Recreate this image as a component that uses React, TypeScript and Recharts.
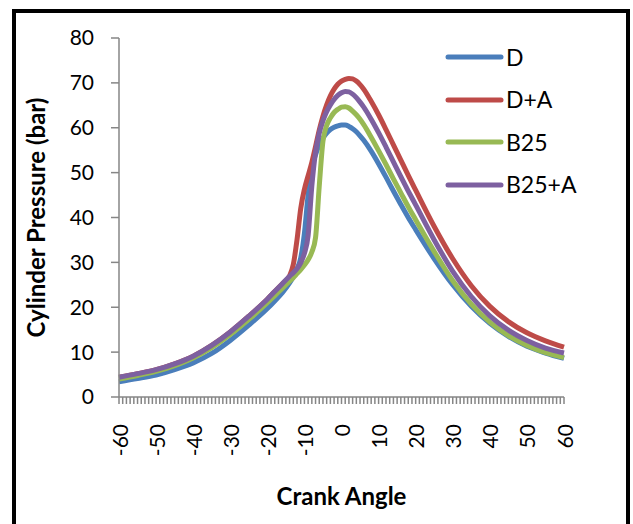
import React from "react";
import { LineChart, Line, XAxis, YAxis, Legend } from "recharts";

// Crank angle positions (deg) at which pressures were taken
const ANGLES = [
  -60, -55, -50, -45, -40, -35, -30, -25, -20, -18, -16, -14, -13, -12, -11, -10,
  -9, -8, -7, -6, -5, -4, -3, -2, -1, 0, 1, 2, 3, 4, 5, 6, 8, 10, 12, 14, 16, 18,
  20, 25, 30, 35, 40, 45, 50, 55, 60,
];

// Cylinder pressure (bar) for each fuel
const D = [
  3.4, 4.1, 4.9, 6.1, 7.6, 9.7, 12.6, 16.0, 19.7, 21.4, 23.2, 25.4, 26.8, 28.5, 31.0, 36.5,
  45.0, 51.0, 54.0, 56.2, 57.7, 58.8, 59.6, 60.1, 60.4, 60.6, 60.6, 60.3, 59.8, 59.1, 58.2, 57.2,
  54.8, 52.0, 49.0, 45.9, 42.9, 40.0, 37.3, 30.8, 25.0, 20.2, 16.4, 13.5, 11.3, 9.8, 8.6,
];
const D_A = [
  4.4, 5.2, 6.1, 7.4, 9.1, 11.5, 14.5, 18.0, 21.8, 23.5, 25.2, 27.0, 29.5, 35.0, 42.0, 46.3,
  49.3, 52.3, 55.8, 59.5, 62.6, 65.1, 67.1, 68.6, 69.7, 70.4, 70.8, 71.0, 70.9, 70.4, 69.6, 68.6,
  65.9, 62.9, 59.6, 56.2, 52.8, 49.4, 46.1, 38.0, 30.8, 24.8, 20.2, 16.8, 14.3, 12.5, 11.1,
];
const B25 = [
  4.0, 4.8, 5.7, 7.0, 8.7, 11.0, 13.9, 17.3, 21.0, 22.6, 24.2, 25.8, 26.6, 27.5, 28.4, 29.4,
  30.6, 32.3, 35.5, 47.0, 57.0, 60.5, 62.2, 63.4, 64.1, 64.6, 64.7, 64.4, 63.7, 62.9, 61.9, 60.7,
  57.9, 54.9, 51.8, 48.6, 45.5, 42.4, 39.5, 32.4, 25.9, 20.7, 16.7, 13.7, 11.5, 9.9, 8.8,
];
const B25_A = [
  4.4, 5.2, 6.1, 7.4, 9.1, 11.5, 14.5, 18.0, 21.8, 23.5, 25.2, 26.9, 27.7, 28.6, 29.9, 32.0,
  36.0, 47.0, 54.5, 58.8, 61.6, 63.6, 65.1, 66.3, 67.2, 67.8, 68.1, 68.0, 67.5, 66.7, 65.7, 64.6,
  61.9, 58.9, 55.7, 52.4, 49.1, 45.9, 42.8, 35.0, 28.0, 22.4, 18.1, 14.9, 12.6, 10.9, 9.8,
];

// Axis ticks
const Y_TICKS = [0, 10, 20, 30, 40, 50, 60, 70, 80];
const X_LABELS = [-60, -50, -40, -30, -20, -10, 0, 10, 20, 30, 40, 50, 60];
const X_MIN = -60;
const X_MAX = 60;

const data = ANGLES.map((a, i) => ({
  angle: a,
  D: D[i],
  "D+A": D_A[i],
  B25: B25[i],
  "B25+A": B25_A[i],
}));

// one minor tick per degree along the crank-angle axis
const X_TICKS: number[] = [];
for (let a = X_MIN; a <= X_MAX; a++) X_TICKS.push(a);

const SERIES = [
  { key: "D", color: "#4A7EBB" },
  { key: "D+A", color: "#BE4B48" },
  { key: "B25", color: "#98B954" },
  { key: "B25+A", color: "#7D60A0" },
];
const SERIES_ORDER = SERIES.map((s) => s.key);

const FONT = "Lato, 'Liberation Sans', sans-serif";
const AXIS_GREY = "#868686";

const XTick = (props: any) => {
  const { x, y, payload } = props;
  if (!X_LABELS.includes(payload.value)) return null;
  return (
    <text
      x={x}
      y={y + 18}
      transform={`rotate(-90, ${x}, ${y + 18})`}
      textAnchor="end"
      dominantBaseline="central"
      fontFamily={FONT}
      fontSize={21}
      fill="#000"
    >
      {payload.value}
    </text>
  );
};

const YTitle = (props: any) => {
  const { viewBox } = props;
  const cx = 35;
  const cy = viewBox.y + viewBox.height / 2;
  return (
    <text
      x={cx}
      y={cy}
      transform={`rotate(-90, ${cx}, ${cy})`}
      textAnchor="middle"
      dominantBaseline="central"
      fontFamily={FONT}
      fontWeight="bold"
      fontSize={24}
      fill="#000"
    >
      Cylinder Pressure (bar)
    </text>
  );
};

const XTitle = (props: any) => {
  const { viewBox } = props;
  const cx = viewBox.x + viewBox.width / 2;
  return (
    <text
      x={cx}
      y={495}
      textAnchor="middle"
      dominantBaseline="central"
      fontFamily={FONT}
      fontWeight="bold"
      fontSize={24}
      fill="#000"
    >
      Crank Angle
    </text>
  );
};

const LegendBox = (props: any) => {
  const items = [...(props.payload || [])].sort(
    (a: any, b: any) => SERIES_ORDER.indexOf(a.value) - SERIES_ORDER.indexOf(b.value)
  );
  return (
    <div>
      {items.map((p: any) => (
        <div
          key={p.value}
          style={{ display: "flex", alignItems: "center", height: 42.5 }}
        >
          <svg width={60} height={10} style={{ display: "block" }}>
            <line
              x1={3}
              y1={5}
              x2={56}
              y2={5}
              stroke={p.color}
              strokeWidth={5}
              strokeLinecap="round"
            />
          </svg>
          <span
            style={{
              fontFamily: FONT,
              fontSize: 23,
              color: "#000",
              lineHeight: 1,
              marginLeft: 1,
            }}
          >
            {p.value}
          </span>
        </div>
      ))}
    </div>
  );
};

export default function App() {
  return (
    <div
      style={{
        position: "absolute",
        left: 0,
        top: 0,
        width: 633,
        height: 524,
        overflow: "hidden",
        background: "#fff",
      }}
    >
      <div
        style={{
          position: "absolute",
          left: 12,
          top: 9,
          width: 618,
          height: 540,
          border: "4px solid #000",
          boxSizing: "border-box",
        }}
      />
      <div style={{ position: "absolute", left: 0, top: 0 }}>
        <LineChart
          width={633}
          height={524}
          data={data}
          margin={{ top: 38, right: 69, bottom: 0, left: 0 }}
        >
          <XAxis
            dataKey="angle"
            type="number"
            domain={[X_MIN, X_MAX]}
            ticks={X_TICKS}
            interval={0}
            height={127}
            tickSize={7}
            tick={<XTick />}
            stroke={AXIS_GREY}
            strokeWidth={1.5}
            label={<XTitle />}
          />
          <YAxis
            type="number"
            domain={[0, 80]}
            ticks={Y_TICKS}
            interval={0}
            width={119}
            tickSize={8}
            tickMargin={17}
            stroke={AXIS_GREY}
            strokeWidth={1.5}
            tick={{ fill: "#000", fontSize: 21, fontFamily: FONT }}
            label={<YTitle />}
          />
          <Legend
            layout="vertical"
            align="center"
            verticalAlign="middle"
            itemSorter={null as any}
            wrapperStyle={{ left: 445, top: 36, width: 180, height: 170 }}
            content={<LegendBox />}
          />
          {SERIES.map((s) => (
            <Line
              key={s.key}
              type="monotone"
              dataKey={s.key}
              stroke={s.color}
              strokeWidth={5}
              dot={false}
              activeDot={false}
              isAnimationActive={false}
            />
          ))}
        </LineChart>
      </div>
    </div>
  );
}
